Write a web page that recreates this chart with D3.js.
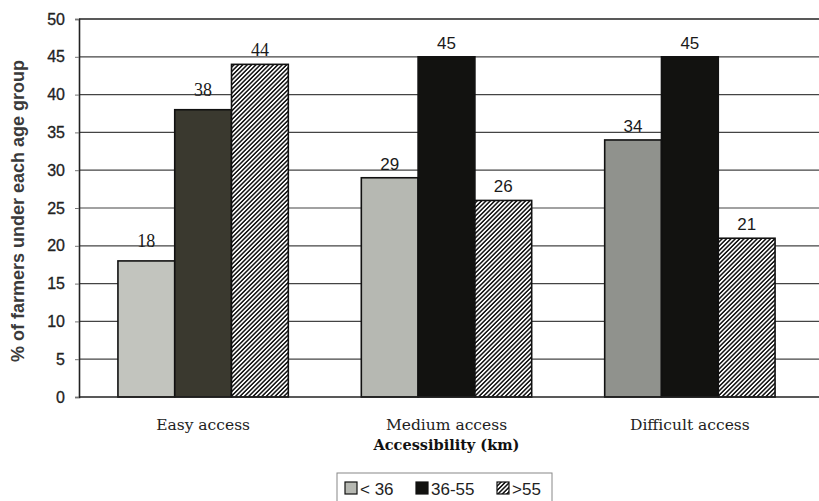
<!DOCTYPE html>
<html><head><meta charset="utf-8">
<script src="https://cdn.jsdelivr.net/npm/d3@7/dist/d3.min.js"></script>
<style>body{margin:0;background:#fff}</style>
</head><body>
<svg id="c" width="819" height="501"></svg>
<script>
const categories = ["Easy access", "Medium access", "Difficult access"];
const seriesNames = ["< 36", "36-55", ">55"];
const lt36 = [18, 29, 34];
const mid = [38, 45, 45];
const gt55 = [44, 26, 21];
const yTicks = [0, 5, 10, 15, 20, 25, 30, 35, 40, 45, 50];

(function(){
const seriesVals = [lt36, mid, gt55];
const svg = d3.select("#c");
const defs = svg.append("defs");
const hs = 3.1;
const pat = defs.append("pattern").attr("id","hatch").attr("patternUnits","userSpaceOnUse")
  .attr("width",hs).attr("height",hs).attr("patternTransform","rotate(45)");
pat.append("rect").attr("width",hs).attr("height",hs).attr("fill","#fff");
pat.append("line").attr("x1",0.8).attr("y1",0).attr("x2",0.8).attr("y2",hs).attr("stroke","#111").attr("stroke-width",1.5);

const pl = 79, pr = 814, pt = 19, pb = 397;
const x0 = d3.scaleBand().domain(categories).range([pl, pr]).paddingInner(0.3).paddingOuter(0.16);
const x1 = d3.scaleBand().domain(d3.range(3)).range([0, x0.bandwidth()]);
const y = d3.scaleLinear().domain([0, 50]).range([pb, pt]);

// gridlines
svg.append("g").selectAll("line").data(yTicks.filter(d=>d>0 && d<50)).join("line")
  .attr("x1", pl).attr("x2", 819).attr("y1", d=>y(d)).attr("y2", d=>y(d))
  .attr("stroke","#444").attr("stroke-width",1.2);
svg.append("line").attr("x1",pl).attr("x2",819).attr("y1",y(50)).attr("y2",y(50)).attr("stroke","#222").attr("stroke-width",1.6);

// y axis
const yAxis = svg.append("g").attr("transform",`translate(${pl},0)`)
  .call(d3.axisLeft(y).tickValues(yTicks).tickSize(4).tickPadding(10));
yAxis.select(".domain").attr("stroke","#222").attr("stroke-width",1.6);
yAxis.selectAll(".tick line").attr("stroke","#777");
yAxis.selectAll("text").attr("font-family","Liberation Sans, Arial, sans-serif").attr("font-size",16).attr("fill","#222")
  .attr("stroke","#222").attr("stroke-width",0.3);

// bars
const fills = ["#b6b8b2", "#121210", "url(#hatch)"];
const gs = svg.append("g").selectAll("g").data(categories).join("g")
  .attr("transform", d=>`translate(${x0(d)},0)`);
gs.each(function(cat, ci){
  const g = d3.select(this);
  seriesVals.forEach((vals, si)=>{
    const v = vals[ci];
    let f = fills[si];
    if (si===0 && ci===0) f = "#c2c4be";
    if (si===0 && ci===2) f = "#90928d";
    if (si===1 && ci===0) f = "#3a392f";
    g.append("rect").attr("x", x1(si)).attr("y", y(v)).attr("width", x1.bandwidth()).attr("height", y(0)-y(v))
      .attr("fill", f).attr("stroke","#111").attr("stroke-width",1.6);
    g.append("text").attr("x", x1(si)+x1.bandwidth()/2).attr("y", y(v)-(ci===0 && si<2 ? 14 : 8))
      .attr("text-anchor","middle")
      .attr("font-family", ci===0 ? "Liberation Serif, Times New Roman, serif" : "Liberation Sans, Arial, sans-serif")
      .attr("font-size", ci===0 ? 18 : 17).attr("fill","#1a1a1a").text(v);
  });
});

// x axis line
svg.append("line").attr("x1",pl).attr("x2",819).attr("y1",pb).attr("y2",pb).attr("stroke","#222").attr("stroke-width",1.6);

// category labels
svg.append("g").selectAll("text").data(categories).join("text")
  .attr("x", d=>x0(d)+x0.bandwidth()/2).attr("y", 430).attr("text-anchor","middle")
  .attr("font-family","DejaVu Serif, serif").attr("font-size",15.5).attr("fill","#222").text(d=>d);

svg.append("text").attr("x", x0(categories[1])+x0.bandwidth()/2).attr("y", 450).attr("text-anchor","middle")
  .attr("font-family","DejaVu Serif, serif").attr("font-weight","bold").attr("font-size",14.5).attr("fill","#111")
  .text("Accessibility (km)");

svg.append("text").attr("transform",`translate(24,${(pt+pb)/2 + 3}) rotate(-90)`).attr("text-anchor","middle")
  .attr("font-family","Liberation Sans, Arial, sans-serif").attr("font-weight","bold").attr("font-size",18).attr("fill","#3a3a3a")
  .text("% of farmers under each age group");

// legend
const lg = svg.append("g");
lg.append("rect").attr("x",337).attr("y",473).attr("width",215).attr("height",32).attr("fill","#fff").attr("stroke","#888").attr("stroke-width",1);
const lx = [345, 416, 497];
seriesNames.forEach((n,i)=>{
  lg.append("rect").attr("x", lx[i]).attr("y", 482).attr("width",12).attr("height",12)
    .attr("fill", fills[i]).attr("stroke","#111").attr("stroke-width",1.2);
  lg.append("text").attr("x", lx[i]+15).attr("y", 495)
    .attr("font-family","Liberation Sans, Arial, sans-serif").attr("font-size",17).attr("fill","#222").text(n);
});
})();
</script>
</body></html>
